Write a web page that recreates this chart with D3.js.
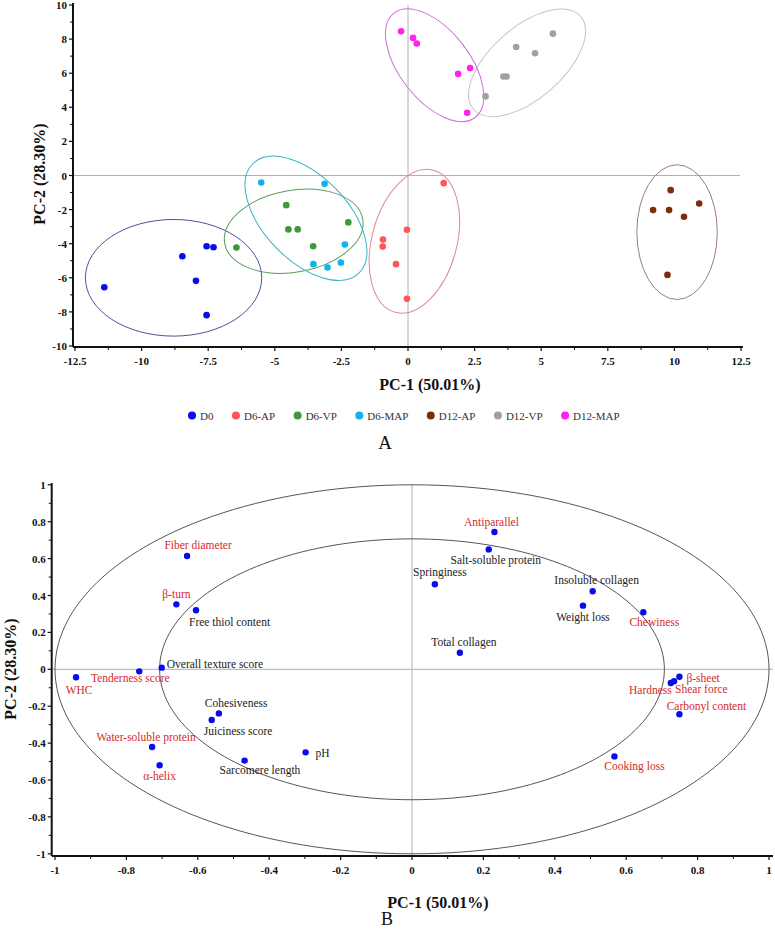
<!DOCTYPE html>
<html>
<head>
<meta charset="utf-8">
<script src="https://cdn.jsdelivr.net/npm/d3@7"></script>
<style>
  html, body { margin: 0; padding: 0; background: #fff; }
  svg { display: block; font-family: "Liberation Serif", "Times New Roman", serif; }
</style>
</head>
<body>
<svg id="chart" width="775" height="930"></svg>
<script>
// ---------------- Panel A data (scores) ----------------
const groups = ["D0", "D6-AP", "D6-VP", "D6-MAP", "D12-AP", "D12-VP", "D12-MAP"];
const scoreX = [
  [-11.4, -8.47, -7.56, -7.30, -7.96, -7.56],
  [1.34, -0.04, -0.94, -0.95, -0.45, -0.04],
  [-6.44, -4.57, -4.49, -4.14, -3.56, -2.24],
  [-5.51, -3.13, -2.37, -3.55, -3.02, -2.52],
  [9.86, 9.2, 9.8, 10.93, 10.36, 9.74],
  [5.44, 4.06, 4.77, 3.58, 3.70, 2.91],
  [-0.26, 0.19, 0.33, 1.88, 2.33, 2.22]
];
const scoreY = [
  [-6.55, -4.74, -4.15, -4.21, -6.18, -8.19],
  [-0.45, -3.18, -3.76, -4.17, -5.2, -7.23],
  [-4.23, -1.74, -3.16, -3.16, -4.15, -2.75],
  [-0.41, -0.49, -4.05, -5.2, -5.40, -5.11],
  [-0.86, -2.03, -2.03, -1.64, -2.42, -5.83],
  [8.32, 7.54, 7.17, 5.81, 5.81, 4.64],
  [8.46, 8.07, 7.74, 5.96, 6.3, 3.68]
];
// confidence ellipses: centre, semi-axes (a in PC-1 units, b in PC-2 units), rotation (deg)
const ellipseCx = [-8.8, 0.24, -4.29, -3.83, 10.1, 4.47, 1.0];
const ellipseCy = [-6.0, -3.86, -3.27, -2.51, -3.32, 6.61, 6.47];
const ellipseA = [3.31, 2.76, 2.63, 2.86, 1.51, 2.66, 2.48];
const ellipseB = [3.42, 2.49, 2.40, 2.46, 3.95, 2.10, 2.05];
const ellipseAngle = [0, -75, -10, 46, 0, -41, 52];
const topXTicks = [-12.5, -10, -7.5, -5, -2.5, 0, 2.5, 5, 7.5, 10, 12.5];
const topYTicks = [-10, -8, -6, -4, -2, 0, 2, 4, 6, 8, 10];

// ---------------- Panel B data (loadings) ----------------
const varNames = ["Fiber diameter", "β-turn", "Free thiol content", "Overall texture score",
  "Tenderness score", "WHC", "Cohesiveness", "Juiciness score", "Water-soluble protein",
  "α-helix", "Sarcomere length", "pH", "Antiparallel", "Salt-soluble protein", "Springiness",
  "Insoluble collagen", "Weight loss", "Chewiness", "Total collagen", "β-sheet", "Shear force",
  "Hardness", "Carbonyl content", "Cooking loss"];
const loadX = [-0.630, -0.660, -0.605, -0.701, -0.764, -0.941, -0.541, -0.561, -0.728,
  -0.707, -0.469, -0.298, 0.231, 0.215, 0.064, 0.506, 0.479, 0.648, 0.134, 0.749, 0.734,
  0.725, 0.749, 0.567];
const loadY = [0.614, 0.352, 0.320, 0.009, -0.011, -0.043, -0.239, -0.275, -0.421,
  -0.520, -0.495, -0.450, 0.744, 0.650, 0.461, 0.423, 0.345, 0.309, 0.090, -0.040, -0.065,
  -0.074, -0.244, -0.472];
const varHighlight = [1, 1, 0, 0, 1, 1, 0, 0, 1, 1, 0, 0, 1, 0, 0, 0, 0, 1, 0, 1, 1, 1, 1, 1];
const circleRadii = [1, 0.707];
const botTicks = [-1, -0.8, -0.6, -0.4, -0.2, 0, 0.2, 0.4, 0.6, 0.8, 1];

// ---------------- styling / layout ----------------
const pointColors = ["#0a0aee", "#ff5555", "#3c9a3c", "#12b2ee", "#7a2e0e", "#a0a0a0", "#ff22ee"];
const ellipseColors = ["#50509e", "#e08a8a", "#5a9e5a", "#3ab4c8", "#9c7d70", "#c6c6c6", "#d070d8"];
// label placement for panel B: [dx, dy, anchor]
const labelLayout = [
  [11, -7, "middle"], [0, -6, "middle"], [-7, 16, "start"], [5, 0, "start"],
  [-9, 11, "middle"], [3, 17, "middle"], [-14, -6, "start"], [-8, 15, "start"],
  [-6, -6, "middle"], [0, 15, "middle"], [-25, 13, "start"], [10, 5, "start"],
  [-3, -6, "middle"], [7, 14.5, "middle"], [5, -8, "middle"], [4, -7, "middle"],
  [0, 15, "middle"], [11, 14, "middle"], [4, -7, "middle"], [7, 5, "start"],
  [1, 12, "start"], [1, 11, "end"], [27, -4, "middle"], [20, 14, "middle"]
];

const svg = d3.select("#chart");
const fmt = d => String(d);

function drawAxes(g, x, y, xTicks, yTicks, axisX, axisY, xEnd, yTop) {
  // minor ticks = midpoints of majors
  const mid = t => t.slice(1).map((v, i) => (v + t[i]) / 2);
  const ax = g.append("g");
  ax.append("line").attr("x1", axisX).attr("x2", xEnd).attr("y1", axisY).attr("y2", axisY)
    .attr("stroke", "#111").attr("stroke-width", 2);
  ax.append("line").attr("x1", axisX).attr("x2", axisX).attr("y1", yTop).attr("y2", axisY)
    .attr("stroke", "#111").attr("stroke-width", 2);
  xTicks.forEach(t => ax.append("line").attr("x1", x(t)).attr("x2", x(t))
    .attr("y1", axisY).attr("y2", axisY + 4).attr("stroke", "#111").attr("stroke-width", 1.2));
  mid(xTicks).forEach(t => ax.append("line").attr("x1", x(t)).attr("x2", x(t))
    .attr("y1", axisY).attr("y2", axisY + 3).attr("stroke", "#111").attr("stroke-width", 1));
  yTicks.forEach(t => ax.append("line").attr("y1", y(t)).attr("y2", y(t))
    .attr("x1", axisX - 4).attr("x2", axisX).attr("stroke", "#111").attr("stroke-width", 1.2));
  mid(yTicks).forEach(t => ax.append("line").attr("y1", y(t)).attr("y2", y(t))
    .attr("x1", axisX - 3).attr("x2", axisX).attr("stroke", "#111").attr("stroke-width", 1));
  ax.selectAll("text.xt").data(xTicks).enter().append("text")
    .attr("x", d => x(d)).attr("y", axisY + 14).attr("text-anchor", "middle")
    .attr("dominant-baseline", "central").attr("font-size", 11).attr("font-weight", "bold")
    .attr("fill", "#111").text(fmt);
  ax.selectAll("text.yt").data(yTicks).enter().append("text")
    .attr("x", axisX - 6).attr("y", d => y(d)).attr("text-anchor", "end")
    .attr("dominant-baseline", "central").attr("font-size", 11).attr("font-weight", "bold")
    .attr("fill", "#111").text(fmt);
}

// ================= Panel A =================
const xA = d3.scaleLinear().domain([-12.5, 12.5]).range([75, 741]);
const yA = d3.scaleLinear().domain([-10, 10]).range([346, 5]);
const gA = svg.append("g");

gA.append("line").attr("x1", 73).attr("x2", 740).attr("y1", yA(0)).attr("y2", yA(0))
  .attr("stroke", "#b0b0b0").attr("stroke-width", 1);
gA.append("line").attr("x1", xA(0)).attr("x2", xA(0)).attr("y1", yA(10)).attr("y2", yA(-10))
  .attr("stroke", "#b0b0b0").attr("stroke-width", 1);

groups.forEach((gname, i) => {
  const rx = xA(ellipseCx[i] + ellipseA[i]) - xA(ellipseCx[i]);
  const ry = yA(ellipseCy[i]) - yA(ellipseCy[i] + ellipseB[i]);
  gA.append("ellipse")
    .attr("cx", xA(ellipseCx[i])).attr("cy", yA(ellipseCy[i]))
    .attr("rx", rx).attr("ry", ry)
    .attr("transform", `rotate(${ellipseAngle[i]},${xA(ellipseCx[i])},${yA(ellipseCy[i])})`)
    .attr("fill", "none").attr("stroke", ellipseColors[i]).attr("stroke-width", 1);
});
groups.forEach((gname, i) => {
  gA.selectAll(null).data(scoreX[i].map((v, j) => [v, scoreY[i][j]])).enter()
    .append("circle").attr("cx", d => xA(d[0])).attr("cy", d => yA(d[1])).attr("r", 3.3)
    .attr("fill", pointColors[i]);
});

drawAxes(gA, xA, yA, topXTicks, topYTicks, 73, 347, 743, 3);

gA.append("text").attr("x", 430).attr("y", 384).attr("text-anchor", "middle")
  .attr("dominant-baseline", "central").attr("font-size", 16).attr("font-weight", "bold")
  .attr("fill", "#111").text("PC-1 (50.01%)");
gA.append("text").attr("transform", `translate(45,174) rotate(-90)`)
  .attr("text-anchor", "middle").attr("font-size", 16).attr("font-weight", "bold")
  .attr("fill", "#111").text("PC-2 (28.30%)");

let lx = 192;
groups.forEach((gname, i) => {
  gA.append("circle").attr("cx", lx).attr("cy", 415.5).attr("r", 4).attr("fill", pointColors[i]);
  const t = gA.append("text").attr("x", lx + 8).attr("y", 415.5).attr("dominant-baseline", "central")
    .attr("font-size", 11).attr("fill", "#333").text(gname);
  lx = lx + 8 + t.node().getComputedTextLength() + 22.5;
});
gA.append("text").attr("x", 385).attr("y", 442).attr("text-anchor", "middle")
  .attr("dominant-baseline", "central").attr("font-size", 19).attr("fill", "#111").text("A");

// ================= Panel B =================
const xB = d3.scaleLinear().domain([-1, 1]).range([55, 769]);
const yB = d3.scaleLinear().domain([-1, 1]).range([853.8, 484.8]);
const gB = svg.append("g");

gB.append("line").attr("x1", 52).attr("x2", 773).attr("y1", yB(0)).attr("y2", yB(0))
  .attr("stroke", "#b0b0b0").attr("stroke-width", 1);
gB.append("line").attr("x1", xB(0)).attr("x2", xB(0)).attr("y1", yB(1)).attr("y2", yB(-1) + 2)
  .attr("stroke", "#b0b0b0").attr("stroke-width", 1);

const circ = d3.range(0, 361, 2).map(a => a * Math.PI / 180);
circleRadii.forEach(r => {
  gB.append("path")
    .attr("d", d3.line().curve(d3.curveLinearClosed)(circ.map(t => [xB(r * Math.cos(t)), yB(r * Math.sin(t))])))
    .attr("fill", "none").attr("stroke", "#555").attr("stroke-width", 1);
});

varNames.forEach((name, i) => {
  const cx = xB(loadX[i]), cy = yB(loadY[i]);
  gB.append("circle").attr("cx", cx).attr("cy", cy).attr("r", 3.2).attr("fill", "#0a0aee");
  const L = labelLayout[i];
  gB.append("text").attr("x", cx + L[0]).attr("y", cy + L[1]).attr("text-anchor", L[2])
    .attr("font-size", 11.5).attr("fill", varHighlight[i] ? "#d42a2a" : "#222").text(name);
});

drawAxes(gB, xB, yB, botTicks, botTicks, 51.7, 856, 773, 483);

gB.append("text").attr("x", 438).attr("y", 902).attr("text-anchor", "middle")
  .attr("dominant-baseline", "central").attr("font-size", 16).attr("font-weight", "bold")
  .attr("fill", "#111").text("PC-1 (50.01%)");
gB.append("text").attr("transform", `translate(16,669) rotate(-90)`)
  .attr("text-anchor", "middle").attr("font-size", 16).attr("font-weight", "bold")
  .attr("fill", "#111").text("PC-2 (28.30%)");
gB.append("text").attr("x", 387).attr("y", 919).attr("text-anchor", "middle")
  .attr("dominant-baseline", "central").attr("font-size", 18).attr("fill", "#111").text("B");
</script>
</body>
</html>
